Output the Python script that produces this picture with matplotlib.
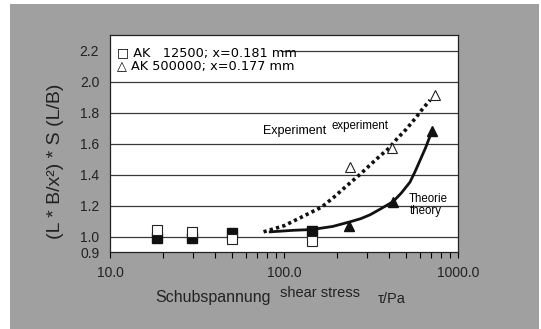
import matplotlib
matplotlib.use('Agg')
import matplotlib.pyplot as plt
from matplotlib.patches import Rectangle
from matplotlib.ticker import LogLocator, NullFormatter, FixedLocator

plt.rcParams['font.family'] = ['Liberation Sans', 'DejaVu Sans']

# AK 12500 (squares)
sq_x = [18.5, 29.5, 50, 145]
sq_open_y = [1.045, 1.03, 0.985, 0.97]
sq_fill_y = [0.99, 0.99, 1.025, 1.035]
# AK 500000 (triangles)
tri_open_x = [240, 415, 735]
tri_open_y = [1.45, 1.57, 1.91]
tri_fill_x = [236, 420, 705]
tri_fill_y = [1.065, 1.225, 1.68]
# curves
exp_x = [76, 100, 123, 164, 191, 230, 272, 310, 355, 400, 444, 500, 564, 620, 688]
exp_y = [1.03, 1.07, 1.12, 1.19, 1.25, 1.33, 1.40, 1.46, 1.52, 1.57, 1.63, 1.69, 1.76, 1.82, 1.88]
theo_x = [83, 113, 144, 190, 239, 275, 311, 360, 422, 470, 527, 565, 602, 650, 700]
theo_y = [1.03, 1.04, 1.045, 1.065, 1.095, 1.115, 1.14, 1.18, 1.225, 1.28, 1.35, 1.42, 1.49, 1.575, 1.67]

yticks = [0.9, 1.0, 1.2, 1.4, 1.6, 1.8, 2.0, 2.2]
grid_levels = [1.0, 1.2, 1.4, 1.6, 1.8, 2.0]

W, H = 541, 329
fig = plt.figure(figsize=(W / 100, H / 100), dpi=100, facecolor='white')
fig.patches.append(Rectangle((10 / W, 0), 529 / W, 325 / H, transform=fig.transFigure,
                             facecolor='#a0a0a0', edgecolor='none', zorder=-10))

ax = fig.add_axes([110.3 / W, 1 - 252 / H, 348 / W, 217 / H])
ax.set_facecolor('white')
ax.set_xscale('log')
ax.set_xlim(10, 1000)
ax.set_ylim(0.9, 2.3)

for g in grid_levels:
    ax.axhline(g, color='#3a3a3a', lw=0.9, zorder=1)
ax.axhline(2.2, xmin=0.49, color='#3a3a3a', lw=0.9, zorder=1)

ax.plot(exp_x, exp_y, color='#111111', lw=2.6, ls=(0, (0.9, 0.9)), zorder=3)
ax.plot(theo_x, theo_y, color='#111111', lw=2.0, zorder=3)

ax.plot(sq_x, sq_fill_y, 's', color='#111111', ms=6.5, zorder=4)
ax.plot(sq_x, sq_open_y, 's', mfc='white', mec='#222222', mew=0.8, ms=6.5, zorder=5)
ax.plot(tri_fill_x, tri_fill_y, '^', color='#111111', ms=7.5, zorder=4)
ax.plot(tri_open_x, tri_open_y, '^', mfc='white', mec='#222222', mew=0.8, ms=7.5, zorder=5)

ax.set_yticks(yticks)
ax.set_yticklabels([f'{v:.1f}' for v in yticks], fontsize=10, color='#222222')
ax.tick_params(axis='y', length=0, pad=8)
ax.xaxis.set_major_locator(FixedLocator([10, 100, 1000]))
ax.set_xticklabels(['10.0', '100.0', '1000.0'], fontsize=10, color='#222222')
ax.xaxis.set_minor_locator(LogLocator(base=10, subs=range(2, 10)))
ax.xaxis.set_minor_formatter(NullFormatter())
ax.tick_params(axis='x', which='both', direction='out', length=4, width=0.8, pad=6)
for s in ax.spines.values():
    s.set_color('#222222')
    s.set_linewidth(0.9)

def fx(px):
    return px / W

def fy(py):
    return 1 - py / H

# legend text
fig.text(fx(117), fy(56.7), '\u25a1 AK   12500; x=0.181 mm', fontsize=9.3, va='baseline',
         family=['DejaVu Sans'])
fig.text(fx(117), fy(69.5), '\u25b3 AK 500000; x=0.177 mm', fontsize=9.3, va='baseline',
         family=['DejaVu Sans'])

# curve annotations
fig.text(fx(263), fy(133.5), 'Experiment', fontsize=9, va='baseline')
fig.text(fx(332), fy(129.5), 'experiment', fontsize=8.3, va='baseline')
fig.text(fx(409), fy(201.5), 'Theorie', fontsize=8.3, va='baseline')
fig.text(fx(410), fy(214), 'theory', fontsize=8.3, va='baseline')

# axis labels
fig.text(fx(155), fy(302), 'Schubspannung', fontsize=11.5, va='baseline', color='#222222')
fig.text(fx(280), fy(297), 'shear stress', fontsize=10.5, va='baseline', color='#222222')
fig.text(fx(378), fy(303), '\u03c4/Pa', fontsize=10.5, va='baseline', color='#222222')
fig.text(fx(56), fy(161), '(L * B/x\u00b2) * S (L/B)', fontsize=14, rotation=90,
         ha='center', va='center', color='#222222')

fig.savefig('out.png', dpi=100, facecolor=fig.get_facecolor())
